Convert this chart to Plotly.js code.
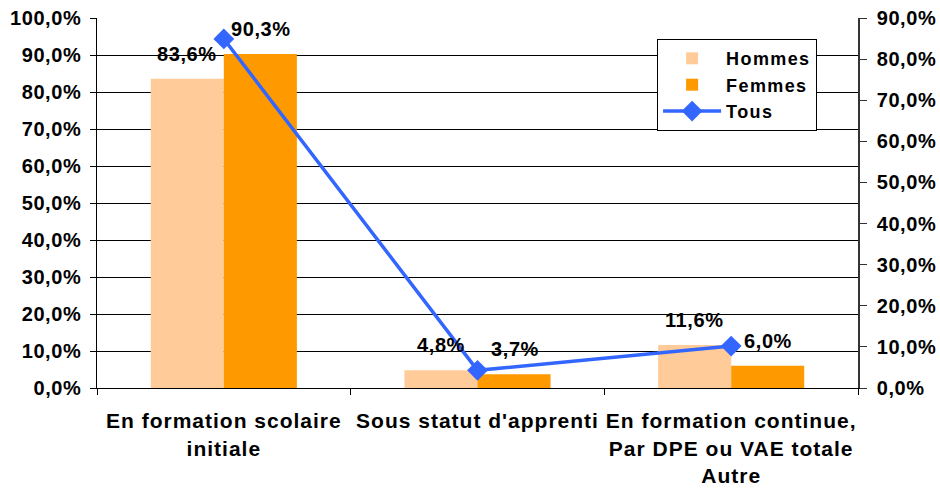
<!DOCTYPE html>
<html>
<head>
<meta charset="utf-8">
<script src="https://cdn.plot.ly/plotly-3.0.1.min.js"></script>
<style>
  html, body { margin: 0; padding: 0; background: #fff; }
  svg text { letter-spacing: 0.6px; }
  .xtick text { letter-spacing: 1px; }
  .legendtext { letter-spacing: 1.4px; }
</style>
</head>
<body>
<div id="chart" style="width:940px;height:493px;"></div>
<script>
const categories = [
  "En formation scolaire<br>initiale",
  "Sous statut d'apprenti",
  "En formation continue,<br>Par DPE ou VAE totale<br>Autre"
];
const hommes = [83.6, 4.8, 11.6];
const femmes = [90.3, 3.7, 6.0];
const tous = [84.9, 4.3, 10.2];

const FAMILY = "Liberation Sans, Arial, sans-serif";
const FONT = { family: FAMILY, size: 20, color: "#000", weight: "bold" };
const fmt = v => v.toFixed(1).replace('.', ',') + '%';

const traces = [
  { type: 'bar', name: 'Hommes', x: categories, y: hommes, marker: { color: '#FFCC99' }, hoverinfo: 'skip' },
  { type: 'bar', name: 'Femmes', x: categories, y: femmes, marker: { color: '#FF9900' }, hoverinfo: 'skip' },
  { type: 'scatter', mode: 'lines+markers', name: 'Tous', x: categories, y: tous, yaxis: 'y2',
    line: { color: '#3366FF', width: 3.5 },
    marker: { symbol: 'diamond', size: 16, color: '#3366FF' }, hoverinfo: 'skip' }
];

const annotations = [];
categories.forEach((c, i) => {
  annotations.push({ x: c, y: hommes[i], text: fmt(hommes[i]), showarrow: false, xshift: -37, yshift: 25, yanchor: 'middle', font: FONT });
  annotations.push({ x: c, y: femmes[i], text: fmt(femmes[i]), showarrow: false, xshift: 37, yshift: 25, yanchor: 'middle', font: FONT });
});

const layout = {
  width: 940, height: 493,
  margin: { l: 97, r: 82, t: 18, b: 105, pad: 0 },
  paper_bgcolor: '#fff', plot_bgcolor: '#fff',
  font: FONT,
  separators: ', ',
  barmode: 'group',
  bargap: 0.424, bargroupgap: 0,
  showlegend: true,
  legend: {
    x: 0.736, y: 0.943, xanchor: 'left', yanchor: 'top',
    bgcolor: '#fff', bordercolor: '#000', borderwidth: 1,
    font: { family: FAMILY, size: 18, color: '#000', weight: 'bold' },
    itemwidth: 58, traceorder: 'normal'
  },
  xaxis: {
    type: 'category', tickson: 'boundaries', ticks: 'outside', ticklen: 6, tickcolor: '#000',
    showline: true, linecolor: '#000', linewidth: 1, showgrid: false,
    tickfont: { family: FAMILY, size: 21, color: '#000', weight: 'bold' },
    ticklabelstandoff: 14, automargin: false
  },
  yaxis: {
    range: [0, 100], dtick: 10, tick0: 0, tickformat: '.1f', ticksuffix: '%\u2009',
    showgrid: true, gridcolor: '#000', gridwidth: 1, zeroline: false,
    showline: true, linecolor: '#000', linewidth: 1,
    ticks: 'outside', ticklen: 6, tickcolor: '#000', tickfont: FONT,
    automargin: false
  },
  yaxis2: {
    overlaying: 'y', side: 'right', range: [0, 90], dtick: 10, tick0: 0,
    tickformat: '.1f', tickprefix: '\u00a0', ticksuffix: '%', showgrid: false, zeroline: false,
    showline: true, linecolor: '#333', linewidth: 1.5,
    ticks: 'outside', ticklen: 7, tickcolor: '#333', tickfont: FONT,
    automargin: false
  },
  annotations: annotations
};

Plotly.newPlot('chart', traces, layout, { displayModeBar: false, staticPlot: true });
</script>
</body>
</html>
